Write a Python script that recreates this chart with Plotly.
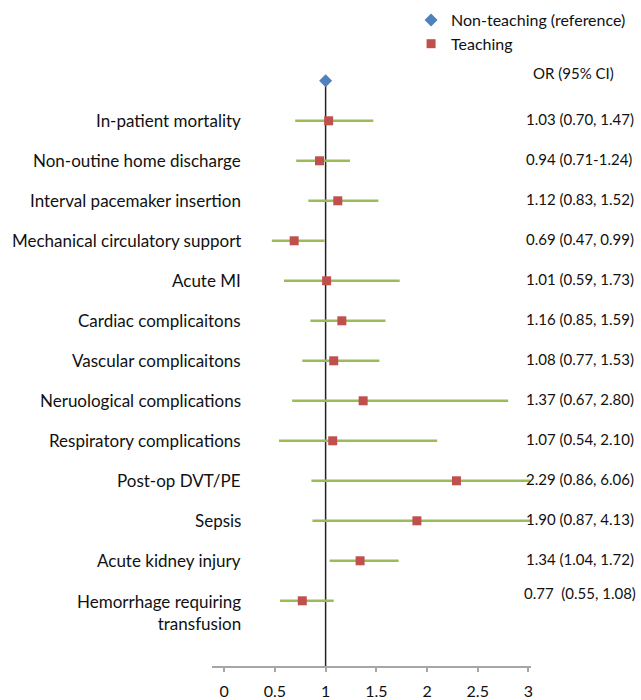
import plotly.graph_objects as go

# ---- data ----
outcomes = [
    "In-patient mortality",
    "Non-outine home discharge",
    "Interval pacemaker insertion",
    "Mechanical circulatory support",
    "Acute MI",
    "Cardiac complicaitons",
    "Vascular complicaitons",
    "Neruological complications",
    "Respiratory complications",
    "Post-op DVT/PE",
    "Sepsis",
    "Acute kidney injury",
    "Hemorrhage requiring<br>transfusion",
]
or_teaching = [1.03, 0.94, 1.12, 0.69, 1.01, 1.16, 1.08, 1.37, 1.07, 2.29, 1.90, 1.34, 0.77]
ci_lower = [0.70, 0.71, 0.83, 0.47, 0.59, 0.85, 0.77, 0.67, 0.54, 0.86, 0.87, 1.04, 0.55]
ci_upper = [1.47, 1.24, 1.52, 0.99, 1.73, 1.59, 1.53, 2.80, 2.10, 6.06, 4.13, 1.72, 1.08]
or_labels = [
    "1.03 (0.70, 1.47)",
    "0.94 (0.71-1.24)",
    "1.12 (0.83, 1.52)",
    "0.69 (0.47, 0.99)",
    "1.01 (0.59, 1.73)",
    "1.16 (0.85, 1.59)",
    "1.08 (0.77, 1.53)",
    "1.37 (0.67, 2.80)",
    "1.07 (0.54, 2.10)",
    "2.29 (0.86, 6.06)",
    "1.90 (0.87, 4.13)",
    "1.34 (1.04, 1.72)",
    "0.77  (0.55, 1.08)",
]
reference_or = [1.0]
x_ticks = [0, 0.5, 1, 1.5, 2, 2.5, 3]
x_tick_labels = ["0", "0.5", "1", "1.5", "2", "2.5", "3"]

FONT = "Lato"
W, H = 641, 700
rows = list(range(1, len(outcomes) + 1))
Y_BOTTOM = 14.63

fig = go.Figure()

fig.add_trace(go.Scatter(
    x=reference_or, y=[0], mode="markers",
    name="Non-teaching (reference)",
    marker=dict(symbol="diamond", size=10, color="#4F81BD"),
    cliponaxis=False,
))

fig.add_trace(go.Scatter(
    x=or_teaching, y=rows, mode="markers",
    name="Teaching",
    marker=dict(symbol="square", size=9, color="#C0504D"),
    error_x=dict(
        type="data", symmetric=False,
        array=[u - o for u, o in zip(ci_upper, or_teaching)],
        arrayminus=[o - l for o, l in zip(or_teaching, ci_lower)],
        color="#9BBB59", thickness=2.5, width=0,
    ),
))

# reference line at OR = 1
fig.add_shape(type="line", xref="x", yref="y", x0=1, x1=1, y0=0, y1=Y_BOTTOM,
              line=dict(color="#222222", width=1.5), layer="below")

annotations = []
for i, (lab, orl) in enumerate(zip(outcomes, or_labels)):
    r = rows[i]
    last = "<br>" in lab
    ly = r + 0.28 if last else r
    oy = r - 0.2 if last else r - 0.05
    annotations.append(dict(xref="paper", yref="y", x=244 / W, y=ly, text=lab,
                            xanchor="right", yanchor="middle", align="right",
                            showarrow=False, font=dict(family=FONT, size=17, color="#111111")))
    annotations.append(dict(xref="paper", yref="y", x=(524 if last else 526) / W, y=oy, text=orl,
                            xanchor="left", yanchor="middle", showarrow=False,
                            font=dict(family=FONT, size=15, color="#111111")))
annotations.append(dict(xref="paper", yref="y", x=533 / W, y=-0.2, text="OR (95% CI)",
                        xanchor="left", yanchor="middle", showarrow=False,
                        font=dict(family=FONT, size=15, color="#111111")))

fig.update_layout(
    width=W, height=H,
    margin=dict(l=0, r=0, t=0, b=34),
    paper_bgcolor="white", plot_bgcolor="white",
    font=dict(family=FONT, color="#111111"),
    xaxis=dict(
        domain=[213 / W, 533 / W], range=[-0.12, 3.02],
        tickvals=x_ticks, ticktext=x_tick_labels,
        showgrid=False, zeroline=False,
        showline=True, linecolor="#A6A6A6", linewidth=1.5,
        ticks="outside", ticklen=4, tickcolor="#A6A6A6", tickwidth=1.5,
        tickfont=dict(family=FONT, size=16, color="#111111"),
        ticklabelstandoff=6,
    ),
    yaxis=dict(
        range=[Y_BOTTOM, -2.02], visible=False, showgrid=False, zeroline=False,
    ),
    showlegend=True,
    legend=dict(
        x=413 / W, y=1 - 3 / 666, xanchor="left", yanchor="top",
        font=dict(family=FONT, size=16, color="#111111"),
        bgcolor="rgba(0,0,0,0)", borderwidth=0, tracegroupgap=0,
        itemwidth=30,
    ),
    annotations=annotations,
)

fig.write_html(
    "out.html",
    config={"displayModeBar": False},
    post_script="document.body.style.margin='0';document.body.style.overflow='hidden';",
)
